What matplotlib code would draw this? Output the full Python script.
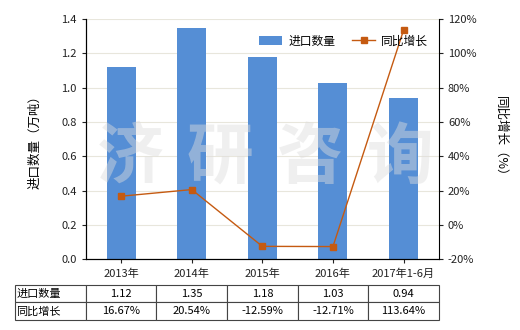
import numpy as np
import matplotlib.pyplot as plt
from matplotlib.ticker import FuncFormatter

plt.rcParams['font.family'] = ['Noto Sans CJK SC', 'DejaVu Sans']

categories = ['2013年', '2014年', '2015年', '2016年', '2017年1-6月']
import_qty = [1.12, 1.35, 1.18, 1.03, 0.94]
yoy_growth = [16.67, 20.54, -12.59, -12.71, 113.64]
qty_labels = ['1.12', '1.35', '1.18', '1.03', '0.94']
yoy_labels = ['16.67%', '20.54%', '-12.59%', '-12.71%', '113.64%']

bar_color = '#558ED5'
line_color = '#C55A11'

fig = plt.figure(figsize=(5.2, 3.3), dpi=100)
ax = fig.add_axes([0.165, 0.215, 0.679, 0.727])
ax2 = ax.twinx()

x = np.arange(len(categories))
ax.bar(x, import_qty, width=0.41, color=bar_color, label='进口数量', zorder=2)
ax.set_ylim(0, 1.4)
ax.set_yticks(np.arange(0, 1.41, 0.2))
ax.yaxis.set_major_formatter(FuncFormatter(lambda v, p: f'{v:.1f}'))
ax.set_xlim(-0.5, len(categories) - 0.5)
ax.set_xticks(x)
ax.set_xticklabels(categories)
ax.grid(axis='y', color='#E8E6DC', linewidth=0.8, zorder=0)
ax.set_axisbelow(True)

ax2.plot(x, yoy_growth, color=line_color, linewidth=1, marker='s',
         markersize=4.5, label='同比增长', zorder=3)
ax2.set_ylim(-20, 120)
ax2.set_yticks(np.arange(-20, 121, 20))
ax2.yaxis.set_major_formatter(FuncFormatter(lambda v, p: f'{v:.0f}%'))

for a in (ax, ax2):
    a.spines['top'].set_visible(False)
    a.tick_params(labelsize=8, length=3, width=0.8, colors='#222222')
ax.spines['right'].set_visible(False)
ax.tick_params(axis='x', pad=4)

ax.set_ylabel('进口数量（万吨）', fontsize=9, labelpad=14)
ax2.set_ylabel('同比增长（%）', fontsize=9, rotation=270, labelpad=22)

# watermark
for i, ch in enumerate('济研咨询'):
    ax.text(0.125 + i * 0.255, 0.42, ch, transform=ax.transAxes, fontsize=48,
            fontweight='bold', color='#DDDDDD', alpha=0.45, ha='center',
            va='center', zorder=2.5)

h1, l1 = ax.get_legend_handles_labels()
h2, l2 = ax2.get_legend_handles_labels()
ax2.legend(h1 + h2, l1 + l2, loc='upper right', bbox_to_anchor=(1.0, 0.98),
           ncol=2, frameon=False, fontsize=8.5, handlelength=2.0,
           handletextpad=0.5, columnspacing=1.4)

cell_text = [['进口数量'] + qty_labels, ['同比增长'] + yoy_labels]
tbl = ax.table(cellText=cell_text, cellLoc='center',
               colWidths=[71] + [70.6] * 5,
               bbox=[-0.201, -0.254, 1.201, 0.146])
tbl.auto_set_font_size(False)
tbl.set_fontsize(8)
for (r, c), cell in tbl.get_celld().items():
    cell.set_edgecolor('#444444')
    cell.set_linewidth(0.8)
    if c == 0:
        cell.get_text().set_ha('left')
        cell.PAD = 0.02

fig.savefig('out.png', dpi=100)
